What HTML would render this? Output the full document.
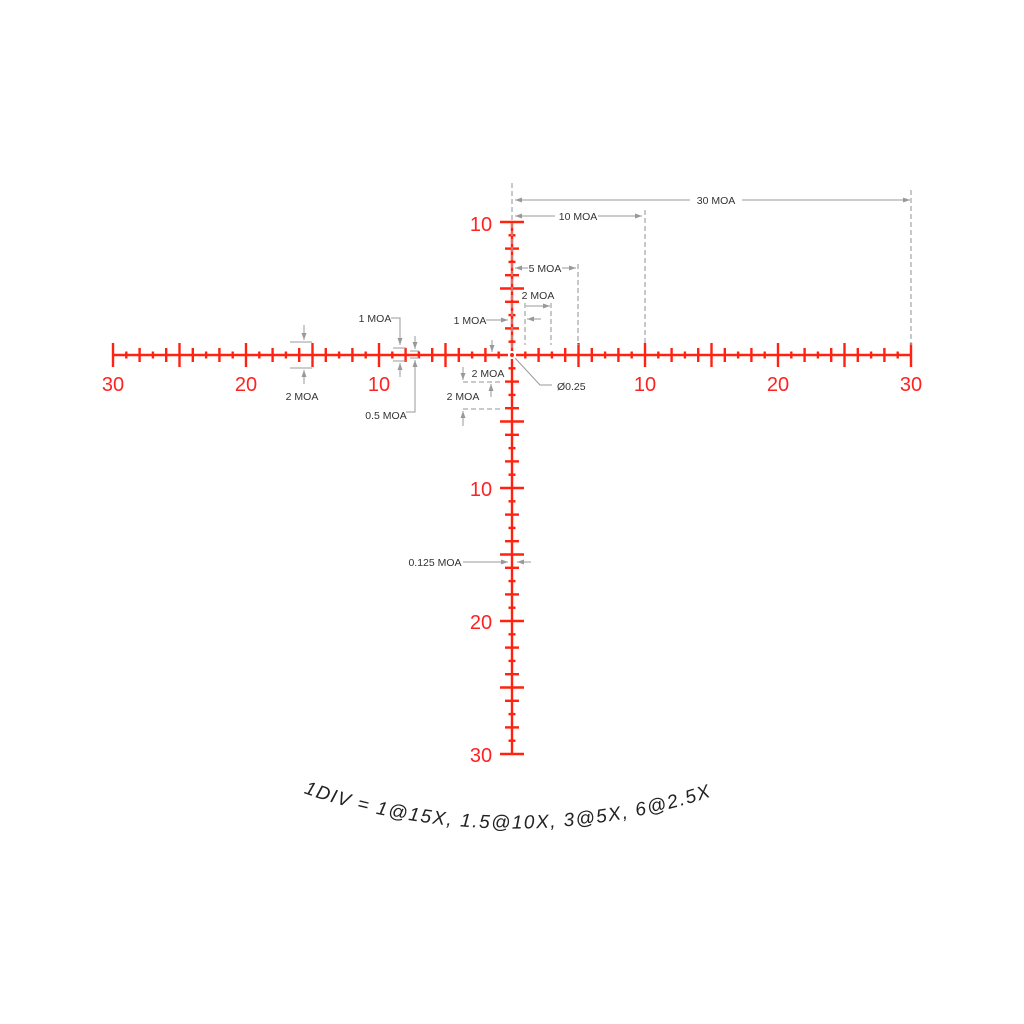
<!DOCTYPE html>
<html><head><meta charset="utf-8"><style>
html,body{margin:0;padding:0;background:#fff}
svg{display:block}
.g{stroke:#999;stroke-width:1;fill:none}
.d{stroke:#aaa;stroke-width:1.3;fill:none;stroke-dasharray:5,3}
.t{font-family:"Liberation Sans",sans-serif;font-size:10.5px;fill:#333}
.r{font-family:"Liberation Sans",sans-serif;font-size:20px;fill:#f22;text-anchor:middle}
</style></head><body>
<svg id="s" width="1024" height="1024" viewBox="0 0 1024 1024" xmlns="http://www.w3.org/2000/svg">
<defs><marker id="a" markerWidth="8" markerHeight="6" refX="7" refY="3" orient="auto" markerUnits="userSpaceOnUse"><path d="M0,0.5 L7,3 L0,5.5z" fill="#999"/></marker></defs>
<g id="ret" stroke="#f21" stroke-width="2.4" fill="none">
<line x1="113" y1="355" x2="508" y2="355"/><line x1="516" y1="355" x2="911" y2="355"/>
<line x1="512" y1="221" x2="512" y2="351"/><line x1="512" y1="359" x2="512" y2="755"/>
</g>
<circle cx="512" cy="355" r="2" fill="#f21"/>
<line class="d" x1="512" y1="183" x2="512" y2="350"/>
<line class="d" x1="911" y1="190" x2="911" y2="345"/>
<line class="d" x1="645" y1="210" x2="645" y2="345"/>
<line class="d" x1="578" y1="264" x2="578" y2="345"/>
<line class="d" x1="525" y1="303" x2="525" y2="345"/>
<line class="d" x1="551" y1="303" x2="551" y2="345"/>
<line class="g" x1="690" y1="200" x2="515" y2="200" marker-end="url(#a)"/>
<line class="g" x1="742" y1="200" x2="910" y2="200" marker-end="url(#a)"/>
<text class="t" x="716" y="204" text-anchor="middle">30 MOA</text>
<line class="g" x1="555" y1="216" x2="515" y2="216" marker-end="url(#a)"/>
<line class="g" x1="598" y1="216" x2="642" y2="216" marker-end="url(#a)"/>
<text class="t" x="578" y="220" text-anchor="middle">10 MOA</text>
<line class="g" x1="528" y1="268" x2="515" y2="268" marker-end="url(#a)"/>
<line class="g" x1="562" y1="268" x2="576" y2="268" marker-end="url(#a)"/>
<text class="t" x="545" y="272" text-anchor="middle">5 MOA</text>
<text class="t" x="538" y="299" text-anchor="middle">2 MOA</text>
<line class="g" x1="526" y1="306" x2="550" y2="306" marker-end="url(#a)"/>
<line class="g" x1="541" y1="319" x2="527" y2="319" marker-end="url(#a)"/>
<text class="t" x="470" y="324" text-anchor="middle">1 MOA</text>
<line class="g" x1="486" y1="320" x2="508" y2="320" marker-end="url(#a)"/>
<line class="g" x1="290" y1="342" x2="312" y2="342"/><line class="g" x1="290" y1="368" x2="312" y2="368"/>
<line class="g" x1="304" y1="325" x2="304" y2="340" marker-end="url(#a)"/>
<line class="g" x1="304" y1="384" x2="304" y2="370" marker-end="url(#a)"/>
<text class="t" x="302" y="400" text-anchor="middle">2 MOA</text>
<text class="t" x="375" y="322" text-anchor="middle">1 MOA</text>
<polyline class="g" points="391,318 400,318 400,345" marker-end="url(#a)"/>
<line class="g" x1="393" y1="348" x2="406" y2="348"/><line class="g" x1="393" y1="361" x2="406" y2="361"/>
<line class="g" x1="400" y1="377" x2="400" y2="363" marker-end="url(#a)"/>
<line class="g" x1="410" y1="351" x2="419" y2="351"/><line class="g" x1="410" y1="358" x2="419" y2="358"/>
<line class="g" x1="415" y1="336" x2="415" y2="349" marker-end="url(#a)"/>
<polyline class="g" points="406,412 415,412 415,360" marker-end="url(#a)"/>
<text class="t" x="386" y="419" text-anchor="middle">0.5 MOA</text>
<line class="g" x1="492" y1="340" x2="492" y2="352" marker-end="url(#a)"/>
<text class="t" x="488" y="377" text-anchor="middle">2 MOA</text>
<line class="d" x1="463" y1="382" x2="502" y2="382"/>
<line class="g" x1="463" y1="367" x2="463" y2="380" marker-end="url(#a)"/>
<text class="t" x="463" y="400" text-anchor="middle">2 MOA</text>
<line class="g" x1="491" y1="397" x2="491" y2="384" marker-end="url(#a)"/>
<line class="d" x1="463" y1="409" x2="502" y2="409"/>
<line class="g" x1="463" y1="426" x2="463" y2="411" marker-end="url(#a)"/>
<polyline class="g" points="515,358 540,385 552,385"/>
<text class="t" x="557" y="390">Ø0.25</text>
<text class="t" x="435" y="566" text-anchor="middle">0.125 MOA</text>
<line class="g" x1="463" y1="562" x2="508" y2="562" marker-end="url(#a)"/>
<line class="g" x1="531" y1="562" x2="517" y2="562" marker-end="url(#a)"/>
<text class="r" x="113" y="391">30</text><text class="r" x="246" y="391">20</text><text class="r" x="379" y="391">10</text>
<text class="r" x="645" y="391">10</text><text class="r" x="778" y="391">20</text><text class="r" x="911" y="391">30</text>
<text class="r" x="481" y="231">10</text><text class="r" x="481" y="496">10</text>
<text class="r" x="481" y="629">20</text><text class="r" x="481" y="762">30</text>
<path id="arc" d="M 295,790 A 632 632 0 0 0 730,790" fill="none"/>
<text style="font-family:'Liberation Sans',sans-serif;font-size:19px;font-style:italic;fill:#222"><textPath href="#arc" startOffset="2%" textLength="415" lengthAdjust="spacing">1DIV = 1@15X, 1.5@10X, 3@5X, 6@2.5X</textPath></text>
</svg>
<script>
(function(){
var s=document.getElementById('ret'),u=13.3,cx=512,cy=355,ns='http://www.w3.org/2000/svg';
function L(a,b,c,d){var l=document.createElementNS(ns,'line');l.setAttribute('x1',a);l.setAttribute('y1',b);l.setAttribute('x2',c);l.setAttribute('y2',d);s.appendChild(l);}
function h(i){return i%5==0?12:(i%2==0?7:3.5);}
for(var i=1;i<=30;i++){var k=h(i);
L(cx+i*u,cy-k,cx+i*u,cy+k);L(cx-i*u,cy-k,cx-i*u,cy+k);
L(cx-k,cy+i*u,cx+k,cy+i*u);
if(i<=10)L(cx-k,cy-i*u,cx+k,cy-i*u);}
})();
</script>
</body></html>
